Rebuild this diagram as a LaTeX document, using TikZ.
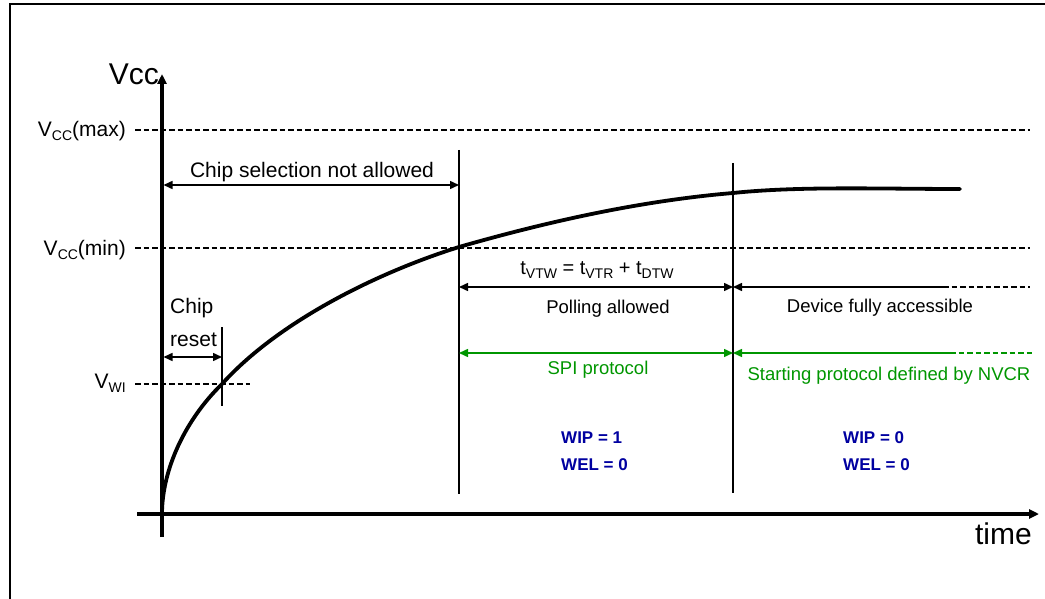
\documentclass[tikz,border=0pt]{standalone}
\usepackage{fontspec}
\setmainfont{Liberation Sans}
\usepackage{tikz}
\usetikzlibrary{arrows.meta}
\definecolor{protogreen}{RGB}{0,150,0}
\definecolor{flagblue}{RGB}{0,0,160}
\newcommand{\lowsub}[1]{\raisebox{-4pt}{\fontsize{14}{14}\selectfont #1}}
\tikzset{
  frame/.style={line width=2.2pt},
  ax/.style={line width=3.5pt, -{Triangle[length=10pt,width=9pt]}},
  curve/.style={line width=3.8pt, line cap=round},
  vline/.style={line width=1.5pt},
  lvl/.style={line width=1.6pt, dash pattern=on 5.5pt off 3pt},
  dim/.style={line width=1.5pt, {Triangle[length=9pt,width=8pt]}-{Triangle[length=9pt,width=8pt]}},
  half/.style={line width=1.5pt, -{Triangle[length=9pt,width=8pt]}},
  big/.style={font=\fontsize{30}{30}\selectfont, inner sep=0pt},
  lbl/.style={font=\fontsize{21}{21}\selectfont, inner sep=0pt},
  sml/.style={font=\fontsize{18.5}{18.5}\selectfont, inner sep=0pt},
  flag/.style={font=\fontsize{17}{17}\selectfont\bfseries, text=flagblue, inner sep=0pt, anchor=base west}
}
\begin{document}
\begin{tikzpicture}[x=1pt, y=-1pt]
  \useasboundingbox (0,0) rectangle (1045,599);
  % frame
  \coordinate (f1) at (10,610);
  \coordinate (f2) at (10,4);
  \coordinate (f3) at (1050,4);
  \draw[frame] (f1) -- (f2) -- (f3);
  % axes
  \coordinate (o) at (162,514);
  \coordinate (yb) at (162,537);
  \coordinate (yt) at (162,74);
  \coordinate (xl) at (137,514);
  \coordinate (xr) at (1039,514);
  \draw[ax] (yb) -- (yt);
  \draw[ax] (xl) -- (xr);
  \node[big, anchor=base east] (vcc) at (159,85) {Vcc};
  \node[big, anchor=base east] (time) at (1032,544) {time};
  % levels
  \coordinate (maxl) at (135,130); \coordinate (maxr) at (1030,130);
  \coordinate (minl) at (135,248); \coordinate (minr) at (1030,248);
  \coordinate (wil) at (135,384);  \coordinate (wir) at (250,384);
  \draw[lvl] (maxl) -- (maxr);
  \draw[lvl] (minl) -- (minr);
  \draw[lvl] (wil) -- (wir);
  \node[lbl, anchor=base east] (vmax) at (126,137) {V\lowsub{CC}(max)};
  \node[lbl, anchor=base east] (vmin) at (126,255) {V\lowsub{CC}(min)};
  \node[lbl, anchor=base east] (vwi) at (126,388) {V\lowsub{WI}};
  % supply curve
  \coordinate (c0) at (162,514);
  \coordinate (c1) at (222,384);
  \coordinate (c2) at (459,247);
  \coordinate (c3) at (733,193);
  \coordinate (c4) at (960,189);
  \draw[curve] (c0) .. controls (162,470) and (185,420) .. (c1)
    .. controls (275,325) and (370,275) .. (c2)
    .. controls (560,218) and (650,200) .. (c3)
    .. controls (800,186) and (880,189) .. (c4);
  % time markers
  \coordinate (t1t) at (459,150); \coordinate (t1b) at (459,494);
  \coordinate (t2t) at (733,163); \coordinate (t2b) at (733,493);
  \coordinate (rt) at (222,327);  \coordinate (rb) at (222,406);
  \draw[vline] (t1t) -- (t1b);
  \draw[vline] (t2t) -- (t2b);
  \draw[vline] (rt) -- (rb);
  % chip selection not allowed
  \coordinate (cs1) at (163.5,185); \coordinate (cs2) at (459,185);
  \draw[dim] (cs1) -- (cs2);
  \node[lbl, anchor=base] (cstxt) at (312,178) {Chip selection not allowed};
  % chip reset
  \coordinate (cr1) at (163.5,357); \coordinate (cr2) at (222,357);
  \draw[dim] (cr1) -- (cr2);
  \node[lbl, anchor=base west] (chip) at (170,313) {Chip};
  \node[lbl, anchor=base west] (reset) at (170,346) {reset};
  % polling
  \node[lbl, font=\fontsize{20}{20}\selectfont, anchor=base] (tvtw) at (597,274)
    {t\lowsub{VTW} = t\lowsub{VTR} + t\lowsub{DTW}};
  \coordinate (p1) at (459,287); \coordinate (p2) at (733,287);
  \draw[dim] (p1) -- (p2);
  \node[sml, anchor=base] (poll) at (608,313) {Polling allowed};
  \coordinate (d1) at (943,287); \coordinate (d2) at (1030,287);
  \draw[half] (d1) -- (p2);
  \draw[lvl] (d1) -- (d2);
  \node[sml, anchor=base] (dev) at (880,312) {Device fully accessible};
  % protocol
  \coordinate (s1) at (459,353); \coordinate (s2) at (733,353);
  \draw[dim, protogreen] (s1) -- (s2);
  \node[sml, text=protogreen, anchor=base] (spi) at (598,374) {SPI protocol};
  \coordinate (n1) at (950,353); \coordinate (n2) at (1033,353);
  \draw[half, protogreen] (n1) -- (s2);
  \draw[lvl, protogreen] (n1) -- (n2);
  \node[sml, text=protogreen, anchor=base] (nvcr) at (889,380) {Starting protocol defined by NVCR};
  % status bits
  \node[flag] (wip1) at (561,443) {WIP = 1};
  \node[flag] (wel1) at (561,470) {WEL = 0};
  \node[flag] (wip0) at (843,443) {WIP = 0};
  \node[flag] (wel0) at (843,470) {WEL = 0};
\end{tikzpicture}
\end{document}
